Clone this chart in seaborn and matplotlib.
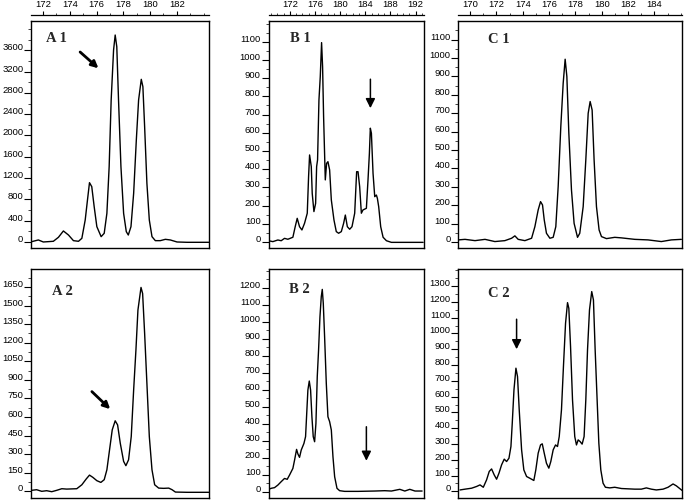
import matplotlib
matplotlib.use("Agg")
import matplotlib.pyplot as plt
import seaborn as sns
import pandas as pd
from matplotlib.ticker import MultipleLocator

sns.set_style("ticks")
plt.rcParams["font.family"] = ["Liberation Sans", "DejaVu Sans"]

# ---------------- data (fragment size in bp, signal) ----------------
A1_trace = [(171.15, 6), (171.65, 38), (172.02, 0), (172.77, 13), (173.15, 88), (173.52, 207),
            (173.90, 131), (174.27, 25), (174.65, 13), (174.90, 69), (175.15, 413), (175.32, 789),
            (175.47, 1114), (175.64, 1039), (175.82, 664), (176.02, 288), (176.34, 100), (176.57, 163),
            (176.77, 538), (176.94, 1415), (177.09, 2667), (177.27, 3606), (177.39, 3887), (177.51, 3668),
            (177.64, 2667), (177.82, 1415), (178.02, 538), (178.22, 194), (178.37, 131), (178.57, 288),
            (178.77, 914), (178.97, 1916), (179.14, 2667), (179.34, 3055), (179.46, 2917), (179.59, 2166),
            (179.76, 1102), (179.94, 413), (180.14, 100), (180.39, 25), (180.76, 25), (181.14, 50),
            (181.51, 38), (182.01, 0), (182.76, -6), (183.76, -6), (184.38, -6)]

B1_trace = [(168.60, 7), (169.29, 2), (170.09, 11), (170.62, 7), (171.15, 20), (171.68, 15),
            (172.48, 26), (172.85, 84), (173.17, 130), (173.54, 84), (173.92, 66), (174.34, 103),
            (174.77, 158), (174.98, 359), (175.14, 478), (175.41, 414), (175.56, 267), (175.83, 167),
            (176.10, 212), (176.26, 414), (176.41, 451), (176.63, 780), (176.84, 908), (177.05, 1095),
            (177.21, 963), (177.37, 689), (177.64, 341), (177.85, 432), (178.06, 441), (178.33, 396),
            (178.60, 231), (179.02, 121), (179.39, 57), (179.76, 48), (180.19, 57), (180.56, 103),
            (180.83, 148), (181.15, 84), (181.52, 70), (181.89, 84), (182.32, 158), (182.63, 386),
            (182.85, 386), (183.11, 304), (183.38, 158), (183.64, 176), (184.18, 185), (184.44, 341),
            (184.66, 487), (184.81, 625), (184.98, 597), (185.24, 377), (185.51, 249), (185.77, 258),
            (185.93, 240), (186.14, 194), (186.46, 84), (186.84, 26), (187.37, 7), (188.16, -2),
            (190.82, -2), (193.21, -2)]

C1_trace = [(169.10, 11), (169.61, 14), (170.37, 7), (171.13, 14), (171.88, 2), (172.64, 7),
            (173.15, 20), (173.40, 33), (173.65, 14), (174.16, 7), (174.67, 20), (174.92, 83),
            (175.17, 174), (175.35, 219), (175.50, 201), (175.63, 120), (175.80, 47), (176.06, 20),
            (176.31, 25), (176.51, 83), (176.69, 301), (176.89, 627), (177.07, 862), (177.22, 993),
            (177.35, 899), (177.50, 591), (177.70, 283), (177.90, 101), (178.16, 25), (178.33, 47),
            (178.59, 192), (178.79, 446), (178.97, 699), (179.12, 763), (179.27, 717), (179.42, 446),
            (179.60, 192), (179.80, 65), (179.98, 29), (180.36, 18), (180.99, 25), (181.50, 22),
            (182.51, 14), (183.52, 11), (184.53, 2), (185.29, 11), (186.05, 14)]

A2_trace = [(171.15, 7), (171.52, 12), (171.90, -1), (172.27, 4), (172.65, -4), (173.02, 7),
            (173.40, 20), (173.77, 17), (174.52, 20), (174.90, 52), (175.22, 98), (175.47, 130),
            (175.72, 112), (176.02, 85), (176.32, 71), (176.57, 93), (176.77, 173), (176.97, 335),
            (177.17, 496), (177.39, 569), (177.57, 536), (177.77, 388), (178.02, 241), (178.19, 206),
            (178.39, 254), (178.59, 442), (178.77, 819), (178.94, 1141), (179.09, 1464), (179.32, 1647),
            (179.44, 1598), (179.59, 1276), (179.76, 872), (179.94, 442), (180.14, 173), (180.34, 52),
            (180.64, 25), (181.01, 23), (181.39, 25), (181.64, 12), (181.89, -7), (182.76, -9),
            (183.76, -9), (184.38, -9)]

B2_trace = [(168.60, 13), (169.03, 19), (169.56, 23), (170.09, 38), (170.62, 58), (171.15, 77),
            (171.58, 72), (171.95, 97), (172.48, 136), (172.75, 185), (173.07, 248), (173.28, 221),
            (173.54, 201), (173.81, 244), (174.24, 283), (174.50, 323), (174.71, 479), (174.87, 597),
            (175.09, 650), (175.30, 597), (175.51, 440), (175.72, 323), (175.94, 293), (176.15, 401),
            (176.36, 675), (176.57, 832), (176.79, 1028), (177.00, 1146), (177.16, 1189), (177.32, 1107),
            (177.53, 911), (177.80, 636), (178.06, 440), (178.33, 411), (178.60, 362), (178.86, 205),
            (179.13, 87), (179.50, 19), (179.92, 5), (180.72, 1), (182.85, 1), (185.51, 3),
            (187.10, 5), (188.17, 3), (189.50, 13), (190.30, 3), (191.09, 13), (191.92, 3), (193.05, 3)]

C2_trace = [(169.23, 9), (169.61, 14), (170.11, 20), (170.49, 31), (170.75, 41), (171.00, 26),
            (171.25, 73), (171.45, 126), (171.63, 142), (171.83, 104), (172.01, 77), (172.19, 115),
            (172.39, 168), (172.59, 204), (172.77, 189), (172.95, 210), (173.10, 284), (173.20, 431),
            (173.33, 642), (173.48, 780), (173.60, 727), (173.73, 516), (173.91, 263), (174.08, 136),
            (174.29, 94), (174.54, 83), (174.84, 69), (174.99, 136), (175.17, 242), (175.35, 294),
            (175.48, 301), (175.63, 242), (175.80, 178), (175.98, 147), (176.13, 189), (176.31, 263),
            (176.49, 294), (176.64, 284), (176.77, 347), (176.94, 516), (177.09, 790), (177.25, 1064),
            (177.40, 1195), (177.50, 1159), (177.63, 917), (177.78, 579), (177.95, 347), (178.08, 294),
            (178.21, 326), (178.36, 315), (178.51, 299), (178.66, 347), (178.79, 579), (178.92, 896),
            (179.07, 1149), (179.24, 1265), (179.37, 1212), (179.50, 896), (179.65, 579), (179.78, 305),
            (179.93, 136), (180.10, 52), (180.28, 26), (180.61, 22), (180.99, 26), (181.50, 18),
            (182.00, 16), (182.51, 14), (183.01, 14), (183.39, 22), (183.77, 14), (184.15, 9),
            (184.66, 14), (185.04, 26), (185.42, 47), (185.67, 35), (186.12, 5)]

panel_names = ["A 1", "B 1", "C 1", "A 2", "B 2", "C 2"]
size_ticks_A = [172, 174, 176, 178, 180, 182]
size_ticks_B = [172, 176, 180, 184, 188, 192]
size_ticks_C = [170, 172, 174, 176, 178, 180, 182, 184]
yticks_A1 = list(range(0, 3601, 400))
yticks_B1 = list(range(0, 1101, 100))
yticks_C1 = list(range(0, 1101, 100))
yticks_A2 = list(range(0, 1651, 150))
yticks_B2 = list(range(0, 1201, 100))
yticks_C2 = list(range(0, 1301, 100))
# arrows: (tail, head) in data units
arrow_A1 = ((174.77, 3568), (176.14, 3262))
arrow_B1 = ((184.82, 894), (184.82, 735))
arrow_A2 = ((175.65, 805), (177.02, 663))
arrow_B2 = ((184.18, 381), (184.18, 181))
arrow_C2 = ((173.53, 1090), (173.53, 900))

# ---------------- layout ----------------
W, H = 685, 500
fig = plt.figure(figsize=(W / 100, H / 100), dpi=100)

cols = {"A": (31, 178), "B": (268.5, 155.8), "C": (458.3, 223.7)}
rows = {"1": (21.5, 226.5), "2": (269, 229)}
xlims = {"A": (171.1, 184.4), "B": (168.6, 193.4), "C": (169.1, 186.1)}

specs = [
    ("A", "1", A1_trace, (-113, 4141), yticks_A1, size_ticks_A, arrow_A1, "thick", (0.084, 0.911)),
    ("B", "1", B1_trace, (-33, 1211), yticks_B1, size_ticks_B, arrow_B1, "thin", (0.138, 0.911)),
    ("C", "1", C1_trace, (-33, 1198), yticks_C1, size_ticks_C, None, None, (0.134, 0.906)),
    ("A", "2", A2_trace, (-55, 1796), yticks_A2, None, arrow_A2, "thick", (0.116, 0.886)),
    ("B", "2", B2_trace, (-38, 1309), yticks_B2, None, arrow_B2, "thin", (0.132, 0.897)),
    ("C", "2", C2_trace, (-42, 1408), yticks_C2, None, arrow_C2, "thin", (0.134, 0.879)),
]

for col, row, trace, ylim, yt, rt, arrow, astyle, lpos in specs:
    x0, w = cols[col]
    y0, h = rows[row]
    ax = fig.add_axes([x0 / W, 1 - (y0 + h) / H, w / W, h / H])
    df = pd.DataFrame(trace, columns=["size", "signal"])
    sns.lineplot(data=df, x="size", y="signal", ax=ax, color="black", lw=1.0,
                 estimator=None, sort=False)
    ax.set_xlim(*xlims[col])
    ax.set_ylim(*ylim)
    ax.set_xlabel("")
    ax.set_ylabel("")
    ax.tick_params(axis="x", which="both", bottom=False, top=False, labelbottom=False)
    ax.set_yticks(yt, labels=[str(v) for v in yt], va="baseline")
    step = yt[1] - yt[0]
    ax.yaxis.set_minor_locator(MultipleLocator(step / 2))
    ax.tick_params(axis="y", which="major", direction="out", length=5, width=0.8,
                   pad=0.6, labelsize=6.8, colors="black")
    ax.tick_params(axis="y", which="minor", direction="out", length=2, width=0.6)
    for s in ax.spines.values():
        s.set_visible(True)
        s.set_linewidth(1.0)
        s.set_color("black")
    if rt is not None:
        sec = ax.secondary_xaxis(1 + 6.5 / h)
        sec.set_xticks(rt)
        sec.xaxis.set_minor_locator(MultipleLocator(1))
        sec.tick_params(axis="x", which="major", direction="out", length=3, width=0.8,
                        pad=1.2, labelsize=6.8, colors="black")
        sec.tick_params(axis="x", which="minor", direction="out", length=1.6, width=0.6)
        for s in sec.spines.values():
            s.set_linewidth(0.9)
            s.set_color("black")
    ax.text(lpos[0], lpos[1], col + " " + row, transform=ax.transAxes, ha="left",
            va="baseline", fontsize=10.5, fontweight="bold",
            family=["Liberation Serif", "DejaVu Serif"])
    if arrow is not None:
        tail, head = arrow
        if astyle == "thick":
            props = dict(arrowstyle="-|>", color="black", lw=2.0, mutation_scale=10,
                         shrinkA=0, shrinkB=0)
        else:
            props = dict(arrowstyle="-|>", color="black", lw=1.1, mutation_scale=14,
                         shrinkA=0, shrinkB=0)
        ax.annotate("", xy=head, xytext=tail, arrowprops=props)

fig.savefig("out.png", dpi=100)
